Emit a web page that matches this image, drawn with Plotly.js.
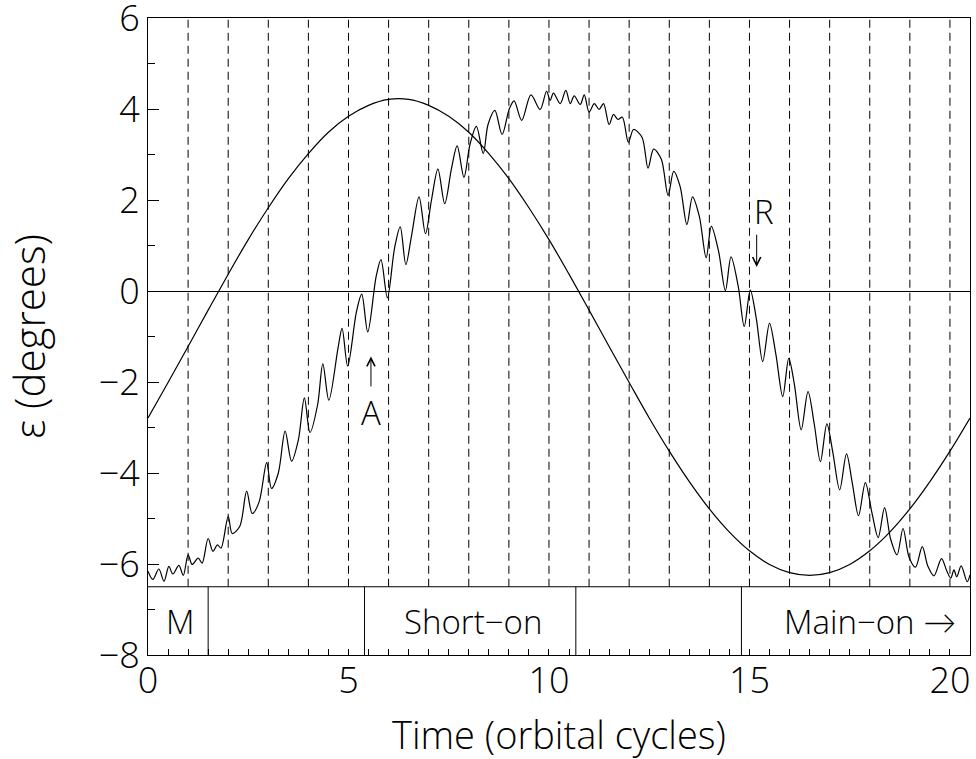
<!DOCTYPE html>
<html>
<head>
<meta charset="utf-8">
<script src="https://cdn.plot.ly/plotly-3.0.1.min.js"></script>
<style>html,body{margin:0;padding:0;background:#fff;}#chart{width:976px;height:759px;}</style>
</head>
<body>
<div id="chart"></div>
<script>
// Smooth (orbital forcing) curve
var sineX = [0,0.5,1,1.5,2,2.5,3,3.5,4,4.5,5,5.5,6,6.5,7,7.5,8,8.5,9,9.5,10,10.5,11,11.5,12,12.5,13,13.5,14,14.5,15,15.5,16,16.5,17,17.5,18,18.5,19,19.5,20,20.5];
var sineY = [-2.79,-2.01,-1.22,-0.42,0.37,1.13,1.83,2.47,3.02,3.49,3.84,4.08,4.21,4.21,4.08,3.84,3.49,3.02,2.47,1.83,1.13,0.37,-0.42,-1.22,-2.01,-2.79,-3.52,-4.19,-4.79,-5.30,-5.71,-6.01,-6.19,-6.25,-6.19,-6.01,-5.71,-5.30,-4.79,-4.19,-3.52,-2.79];

// Wiggly epsilon curve
var epsX = [0.00,0.12,0.27,0.40,0.52,0.62,0.77,0.88,1.00,1.10,1.25,1.35,1.50,1.62,1.73,1.82,2.00,2.10,2.29,2.46,2.60,2.77,2.96,3.08,3.25,3.42,3.58,3.75,3.90,4.04,4.23,4.36,4.51,4.74,4.84,4.98,5.20,5.33,5.48,5.69,5.81,5.97,6.15,6.29,6.43,6.57,6.76,6.92,7.07,7.23,7.40,7.57,7.71,7.88,8.03,8.19,8.36,8.48,8.65,8.83,9.01,9.13,9.32,9.55,9.78,9.94,10.03,10.11,10.28,10.42,10.53,10.63,10.78,10.88,11.00,11.13,11.25,11.36,11.50,11.61,11.72,11.83,11.98,12.11,12.32,12.47,12.61,12.80,12.97,13.11,13.27,13.44,13.58,13.75,13.92,14.05,14.23,14.40,14.54,14.72,14.87,15.02,15.17,15.33,15.50,15.66,15.83,15.98,16.12,16.29,16.46,16.62,16.77,16.93,17.08,17.25,17.42,17.57,17.72,17.89,18.06,18.21,18.37,18.52,18.68,18.83,18.98,19.14,19.31,19.45,19.60,19.79,19.92,20.02,20.10,20.17,20.28,20.43,20.50];
var epsY = [-6.16,-6.34,-6.11,-6.38,-6.05,-6.22,-6.03,-6.25,-5.80,-6.01,-5.87,-5.98,-5.44,-5.72,-5.58,-5.65,-4.95,-5.33,-5.17,-4.40,-4.89,-4.64,-3.77,-4.34,-4.00,-3.08,-3.74,-3.27,-2.35,-3.11,-2.50,-1.60,-2.40,-1.25,-0.82,-1.65,-0.45,-0.07,-0.90,0.32,0.69,-0.15,0.95,1.41,0.58,1.20,2.07,1.26,2.00,2.68,1.92,2.70,3.19,2.50,3.22,3.62,3.02,3.66,3.97,3.44,4.00,4.18,3.75,4.31,3.99,4.39,4.19,4.35,4.12,4.41,4.12,4.29,4.10,4.31,3.93,4.12,3.99,4.12,3.66,3.88,3.77,3.82,3.27,3.55,3.38,2.70,3.12,2.90,2.10,2.63,2.30,1.46,2.07,1.64,0.73,1.42,0.87,0.01,0.75,0.10,-0.78,0.02,-0.60,-1.55,-0.71,-1.40,-2.32,-1.48,-2.05,-3.05,-2.21,-2.95,-3.75,-2.92,-3.55,-4.37,-3.58,-4.25,-4.94,-4.21,-4.90,-5.42,-4.76,-5.45,-5.80,-5.22,-5.85,-6.07,-5.62,-6.05,-6.26,-5.88,-6.15,-6.31,-6.13,-6.28,-6.04,-6.39,-6.24];

// Orbital cycle markers and phase bands
var cycleMarks = [1,2,3,4,5,6,7,8,9,10,11,12,13,14,15,16,17,18,19,20];
var phaseBounds = [1.5, 5.4, 10.67, 14.8];
var bandTop = -6.5;
var phaseLabels = ["M", "Short\u2212on", "Main\u2212on \u2192"];
var phaseLabelX = [0.8, 8.1, 18.0];
var phaseLabelY = -7.27;

// Event markers
var eventLabels = ["A", "R"];
var eventX = [5.56, 15.18];
var eventLabelX = [5.57, 15.36];
var eventLabelY = [-2.66, 1.74];
var eventArrowTail = [-2.13, 1.27];
var eventArrowTip = [-1.44, 0.53];

var yTickVals = [-8,-6,-4,-2,0,2,4,6];
var xTickVals = [0,5,10,15,20];
var xTitle = 'Time (orbital cycles)';
var yTitle = '\u03b5 (degrees)';

var FONT = "Open Sans, Lato, DejaVu Sans, sans-serif";
var W = 300;

var shapes = [];
cycleMarks.forEach(function(c){
  shapes.push({type:'line', xref:'x', yref:'y', x0:c, x1:c, y0:bandTop, y1:6,
    line:{color:'#000', width:1, dash:'8px,5px'}});
});
shapes.push({type:'line', xref:'x', yref:'y', x0:0, x1:20.5, y0:bandTop, y1:bandTop, line:{color:'#000', width:1}});
phaseBounds.forEach(function(b){
  shapes.push({type:'line', xref:'x', yref:'y', x0:b, x1:b, y0:-8, y1:bandTop, line:{color:'#000', width:1}});
});

var annotations = [];
phaseLabels.forEach(function(t,i){
  annotations.push({x:phaseLabelX[i], y:phaseLabelY, xref:'x', yref:'y', text:t, showarrow:false,
    font:{family:FONT, size:33, color:'#000', weight:W}});
});
eventLabels.forEach(function(t,i){
  annotations.push({x:eventLabelX[i], y:eventLabelY[i], xref:'x', yref:'y', text:t, showarrow:false,
    font:{family:FONT, size:33, color:'#000', weight:W}});
  annotations.push({x:eventX[i], y:eventArrowTip[i], ax:eventX[i], ay:eventArrowTail[i],
    xref:'x', yref:'y', axref:'x', ayref:'y', text:'', showarrow:true,
    arrowhead:5, arrowsize:1.6, arrowwidth:1, arrowcolor:'#000'});
});
// x-axis title placed under the tick labels
annotations.push({x:0.5, y:0, xref:'paper', yref:'paper', yanchor:'middle', yshift:-79,
  text:xTitle, showarrow:false, font:{family:FONT, size:38, color:'#000', weight:W}});

var traces = [
  {x:sineX, y:sineY, mode:'lines', line:{color:'#000', width:1.2, shape:'spline'}, hoverinfo:'skip'},
  {x:epsX, y:epsY, mode:'lines', line:{color:'#000', width:1.2, shape:'spline', smoothing:0.9}, hoverinfo:'skip'}
];

var layout = {
  width:976, height:759,
  margin:{l:148, r:6, t:18, b:104},
  paper_bgcolor:'#fff', plot_bgcolor:'#fff',
  showlegend:false,
  font:{family:FONT, color:'#000', weight:W},
  xaxis:{range:[0,20.5], showgrid:false, zeroline:false,
    showline:true, mirror:true, linecolor:'#000', linewidth:1,
    tickmode:'array', tickvals:xTickVals, ticks:'inside', ticklen:6, tickcolor:'#000',
    minor:{dtick:0.5, ticks:'inside', ticklen:6, tickcolor:'#000', showgrid:false},
    tickfont:{family:FONT, size:36, color:'#000', weight:W},
    ticklabelstandoff:-6,
    ticklabeloverflow:'allow'},
  yaxis:{range:[-8,6], showgrid:false,
    zeroline:true, zerolinecolor:'#000', zerolinewidth:1,
    showline:true, mirror:true, linecolor:'#000', linewidth:1,
    tickmode:'array', tickvals:yTickVals, ticks:'inside', ticklen:11, tickcolor:'#000',
    minor:{dtick:1, ticks:'inside', ticklen:7, tickcolor:'#000', showgrid:false},
    tickfont:{family:FONT, size:36, color:'#000', weight:W},
    ticklabeloverflow:'allow',
    title:{text:yTitle, font:{family:FONT, size:42, color:'#000', weight:W}, standoff:44}},
  shapes:shapes,
  annotations:annotations
};

Plotly.newPlot('chart', traces, layout, {staticPlot:true, displayModeBar:false});
</script>
</body>
</html>
